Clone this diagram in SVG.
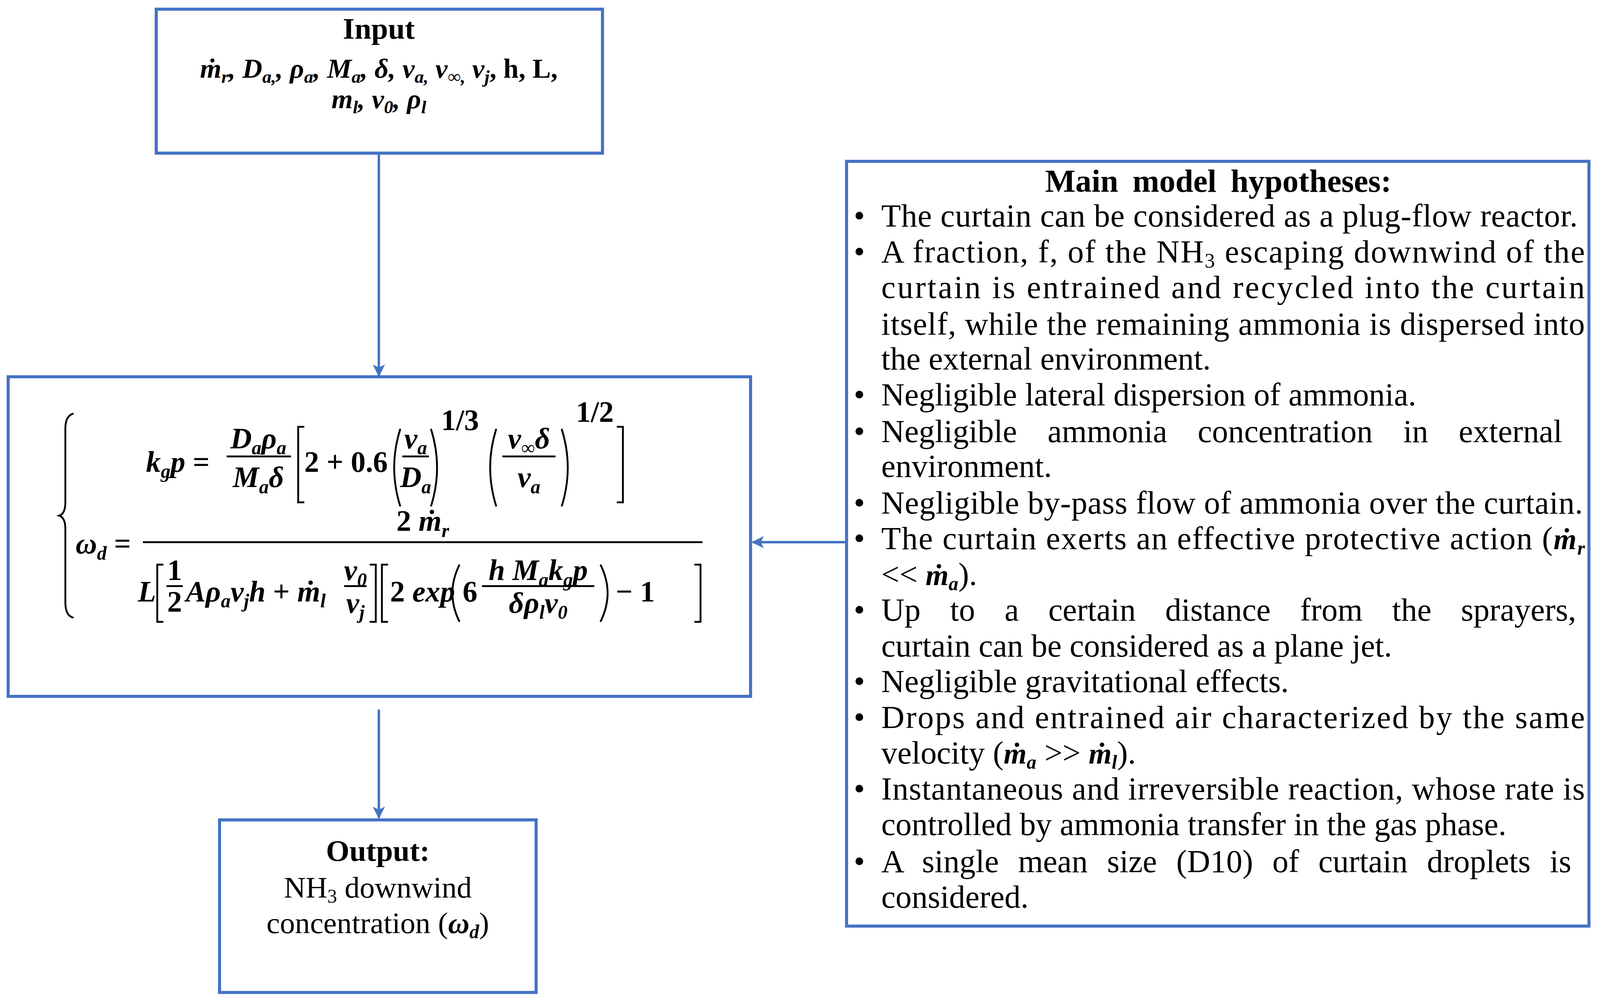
<svg xmlns="http://www.w3.org/2000/svg" width="4099" height="2568" viewBox="0 0 4099 2568">
<style>
.box{fill:#fff;stroke:#4472C4;stroke-width:3}
.con{stroke:#4472C4;stroke-width:2.4;fill:none}
.t{font-family:"Liberation Serif",serif;font-size:31.5px;fill:#000}
.o{font-family:"Liberation Serif",serif;font-size:29.5px;fill:#000}
.b{font-weight:bold}
.m{font-family:"Liberation Serif",serif;font-size:29px;font-weight:bold;font-style:italic;fill:#000}
.mi{font-family:"Liberation Serif",serif;font-size:27px;font-weight:bold;font-style:italic;fill:#000}
.mu{font-style:normal}
.ln{stroke:#000;stroke-width:1.8;fill:none}
</style>
<defs><marker id="ah" markerWidth="12" markerHeight="12" refX="11" refY="6" orient="auto" markerUnits="userSpaceOnUse"><path d="M0,0 L12,6 L0,12 L3,6 z" fill="#4472C4"/></marker></defs>
<rect width="4099" height="2568" fill="#fff"/>
<g transform="scale(2.6142)">
<g id="connectors">
<path class="con" d="M371,150 V368" marker-end="url(#ah)"/>
<path class="con" d="M371,695 V801" marker-end="url(#ah)"/>
<path class="con" d="M829,531 H737" marker-end="url(#ah)"/>
</g>
<g id="input">
<rect class="box" x="153" y="9" width="437" height="141"/>
<text class="o b" x="371" y="38" text-anchor="middle">Input</text>
<text class="mi" x="371" y="76" text-anchor="middle">ṁ<tspan font-size="18" dy="5">r</tspan><tspan dy="-5">, D</tspan><tspan font-size="18" dy="5">a,</tspan><tspan dy="-5">, ρ</tspan><tspan font-size="18" dy="5">a</tspan><tspan dy="-5">, M</tspan><tspan font-size="18" dy="5">a</tspan><tspan dy="-5">, δ, v</tspan><tspan font-size="18" dy="5">a,</tspan><tspan dy="-5"> v</tspan><tspan font-size="18" dy="5">∞,</tspan><tspan dy="-5"> v</tspan><tspan font-size="18" dy="5">j</tspan><tspan dy="-5" class="mu">, h, L,</tspan></text>
<text class="mi" x="371" y="106" text-anchor="middle">m<tspan font-size="18" dy="5">l</tspan><tspan dy="-5">, v</tspan><tspan font-size="18" dy="5">0</tspan><tspan dy="-5">, ρ</tspan><tspan font-size="18" dy="5">l</tspan></text>
</g>
<g id="model">
<rect class="box" x="8" y="369" width="727" height="313"/>
<path class="ln" d="M72,405 Q64,407 64,420 V492 Q64,503 58,505 Q64,507 64,518 V590 Q64,603 72,605"/>
<text class="m" x="143" y="462">k<tspan font-size="19" dy="6">g</tspan><tspan dy="-6">p </tspan><tspan class="mu">=</tspan></text>
<text class="m" x="253" y="439" text-anchor="middle">D<tspan font-size="19" dy="6">a</tspan><tspan dy="-6">ρ</tspan><tspan font-size="19" dy="6">a</tspan></text>
<line class="ln" x1="222" y1="447" x2="285" y2="447"/>
<text class="m" x="253" y="477" text-anchor="middle">M<tspan font-size="19" dy="6">a</tspan><tspan dy="-6">δ</tspan></text>
<path class="ln" d="M298,418 H292 V492 H298 M604,418 H610 V492 H604"/>
<text class="m mu" x="298" y="462">2 + 0.6</text>
<path class="ln" d="M392,420 Q380,458 392,496 M422,420 Q434,458 422,496"/>
<text class="m" x="407" y="439" text-anchor="middle">v<tspan font-size="19" dy="6">a</tspan></text>
<line class="ln" x1="394" y1="447" x2="420" y2="447"/>
<text class="m" x="407" y="477" text-anchor="middle">D<tspan font-size="19" dy="6">a</tspan></text>
<text class="m mu" x="432" y="421" font-size="20">1/3</text>
<path class="ln" d="M486,420 Q474,458 486,496 M550,420 Q562,458 550,496"/>
<text class="m" x="518" y="439" text-anchor="middle">v<tspan font-size="19" dy="6">∞</tspan><tspan dy="-6">δ</tspan></text>
<line class="ln" x1="492" y1="447" x2="544" y2="447"/>
<text class="m" x="518" y="477" text-anchor="middle">v<tspan font-size="19" dy="6">a</tspan></text>
<text class="m mu" x="564" y="413" font-size="20">1/2</text>
<text class="m" x="74" y="542">ω<tspan font-size="19" dy="6">d</tspan><tspan dy="-6" class="mu"> =</tspan></text>
<text class="m" x="414" y="520" text-anchor="middle"><tspan class="mu">2 </tspan>ṁ<tspan font-size="19" dy="6">r</tspan></text>
<line class="ln" x1="140" y1="531" x2="688" y2="531"/>
<text class="m" x="135" y="589">L</text>
<path class="ln" d="M160,553 H154 V609 H160 M362,553 H368 V609 H362 M380,553 H374 V609 H380 M680,553 H686 V609 H680"/>
<text class="m mu" x="171" y="568" text-anchor="middle">1</text>
<line class="ln" x1="163" y1="574" x2="179" y2="574"/>
<text class="m mu" x="171" y="599" text-anchor="middle">2</text>
<text class="m" x="182" y="589">Aρ<tspan font-size="19" dy="6">a</tspan><tspan dy="-6">v</tspan><tspan font-size="19" dy="6">j</tspan><tspan dy="-6">h </tspan><tspan class="mu">+</tspan> ṁ<tspan font-size="19" dy="6">l</tspan></text>
<text class="m" x="348" y="568" text-anchor="middle">v<tspan font-size="19" dy="6">0</tspan></text>
<line class="ln" x1="337" y1="574" x2="359" y2="574"/>
<text class="m" x="348" y="600" text-anchor="middle">v<tspan font-size="19" dy="6">j</tspan></text>
<text class="m" x="382" y="589"><tspan class="mu">2 </tspan>exp</text>
<path class="ln" d="M450,553 Q436,581 450,609 M588,553 Q602,581 588,609"/>
<text class="m mu" x="453" y="589">6</text>
<text class="m" x="527" y="568" text-anchor="middle">h M<tspan font-size="19" dy="6">a</tspan><tspan dy="-6">k</tspan><tspan font-size="19" dy="6">g</tspan><tspan dy="-6">p</tspan></text>
<line class="ln" x1="472" y1="574" x2="582" y2="574"/>
<text class="m" x="527" y="600" text-anchor="middle">δρ<tspan font-size="19" dy="6">l</tspan><tspan dy="-6">v</tspan><tspan font-size="19" dy="6">0</tspan></text>
<text class="m mu" x="603" y="589">− 1</text>
</g>
<g id="output">
<rect class="box" x="215" y="803" width="310" height="169"/>
<text class="o b" x="370" y="843" text-anchor="middle">Output:</text>
<text class="o" x="370" y="879" text-anchor="middle">NH<tspan font-size="19" dy="5">3</tspan><tspan dy="-5"> downwind</tspan></text>
<text class="o" x="370" y="914" text-anchor="middle">concentration (<tspan class="m">ω<tspan font-size="19" dy="5">d</tspan></tspan><tspan dy="-5">)</tspan></text>
</g>
<g id="hypotheses">
<rect class="box" x="829" y="158" width="727" height="749"/>
<text class="t b" x="1193" y="188" text-anchor="middle" word-spacing="6">Main model hypotheses:</text>
<g class="t">
<text x="836" y="222">•</text><text x="836" y="257">•</text><text x="836" y="397">•</text><text x="836" y="433">•</text><text x="836" y="503">•</text><text x="836" y="538">•</text><text x="836" y="608">•</text><text x="836" y="678">•</text><text x="836" y="713">•</text><text x="836" y="783">•</text><text x="836" y="854">•</text>
<text x="863" y="222" textLength="682" lengthAdjust="spacing">The curtain can be considered as a plug-flow reactor.</text>
<text x="863" y="257" textLength="689" lengthAdjust="spacing">A fraction, f, of the NH<tspan font-size="20" dy="5">3</tspan><tspan dy="-5"> escaping downwind of the</tspan></text>
<text x="863" y="292" textLength="689" lengthAdjust="spacing">curtain is entrained and recycled into the curtain</text>
<text x="863" y="328" textLength="689" lengthAdjust="spacing">itself, while the remaining ammonia is dispersed into</text>
<text x="863" y="362">the external environment.</text>
<text x="863" y="397">Negligible lateral dispersion of ammonia.</text>
<text x="863" y="433" word-spacing="22">Negligible ammonia concentration in external</text>
<text x="863" y="467">environment.</text>
<text x="863" y="503" textLength="687" lengthAdjust="spacing">Negligible by-pass flow of ammonia over the curtain.</text>
<text x="863" y="538" textLength="689" lengthAdjust="spacing">The curtain exerts an effective protective action (<tspan class="m">ṁ<tspan font-size="19" dy="5">r</tspan></tspan></text>
<text x="863" y="573">&lt;&lt; <tspan class="m">ṁ<tspan font-size="19" dy="5">a</tspan></tspan><tspan dy="-5">).</tspan></text>
<text x="863" y="608" word-spacing="21">Up to a certain distance from the sprayers, the</text>
<text x="863" y="643">curtain can be considered as a plane jet.</text>
<text x="863" y="678">Negligible gravitational effects.</text>
<text x="863" y="713" textLength="689" lengthAdjust="spacing">Drops and entrained air characterized by the same</text>
<text x="863" y="748">velocity (<tspan class="m">ṁ<tspan font-size="19" dy="5">a</tspan></tspan><tspan dy="-5"> &gt;&gt; </tspan><tspan class="m">ṁ<tspan font-size="19" dy="5">l</tspan></tspan><tspan dy="-5">).</tspan></text>
<text x="863" y="783" textLength="689" lengthAdjust="spacing">Instantaneous and irreversible reaction, whose rate is</text>
<text x="863" y="818">controlled by ammonia transfer in the gas phase.</text>
<text x="863" y="854" word-spacing="11">A single mean size (D10) of curtain droplets is</text>
<text x="863" y="889">considered.</text>
</g>
</g>
</g>
</svg>
